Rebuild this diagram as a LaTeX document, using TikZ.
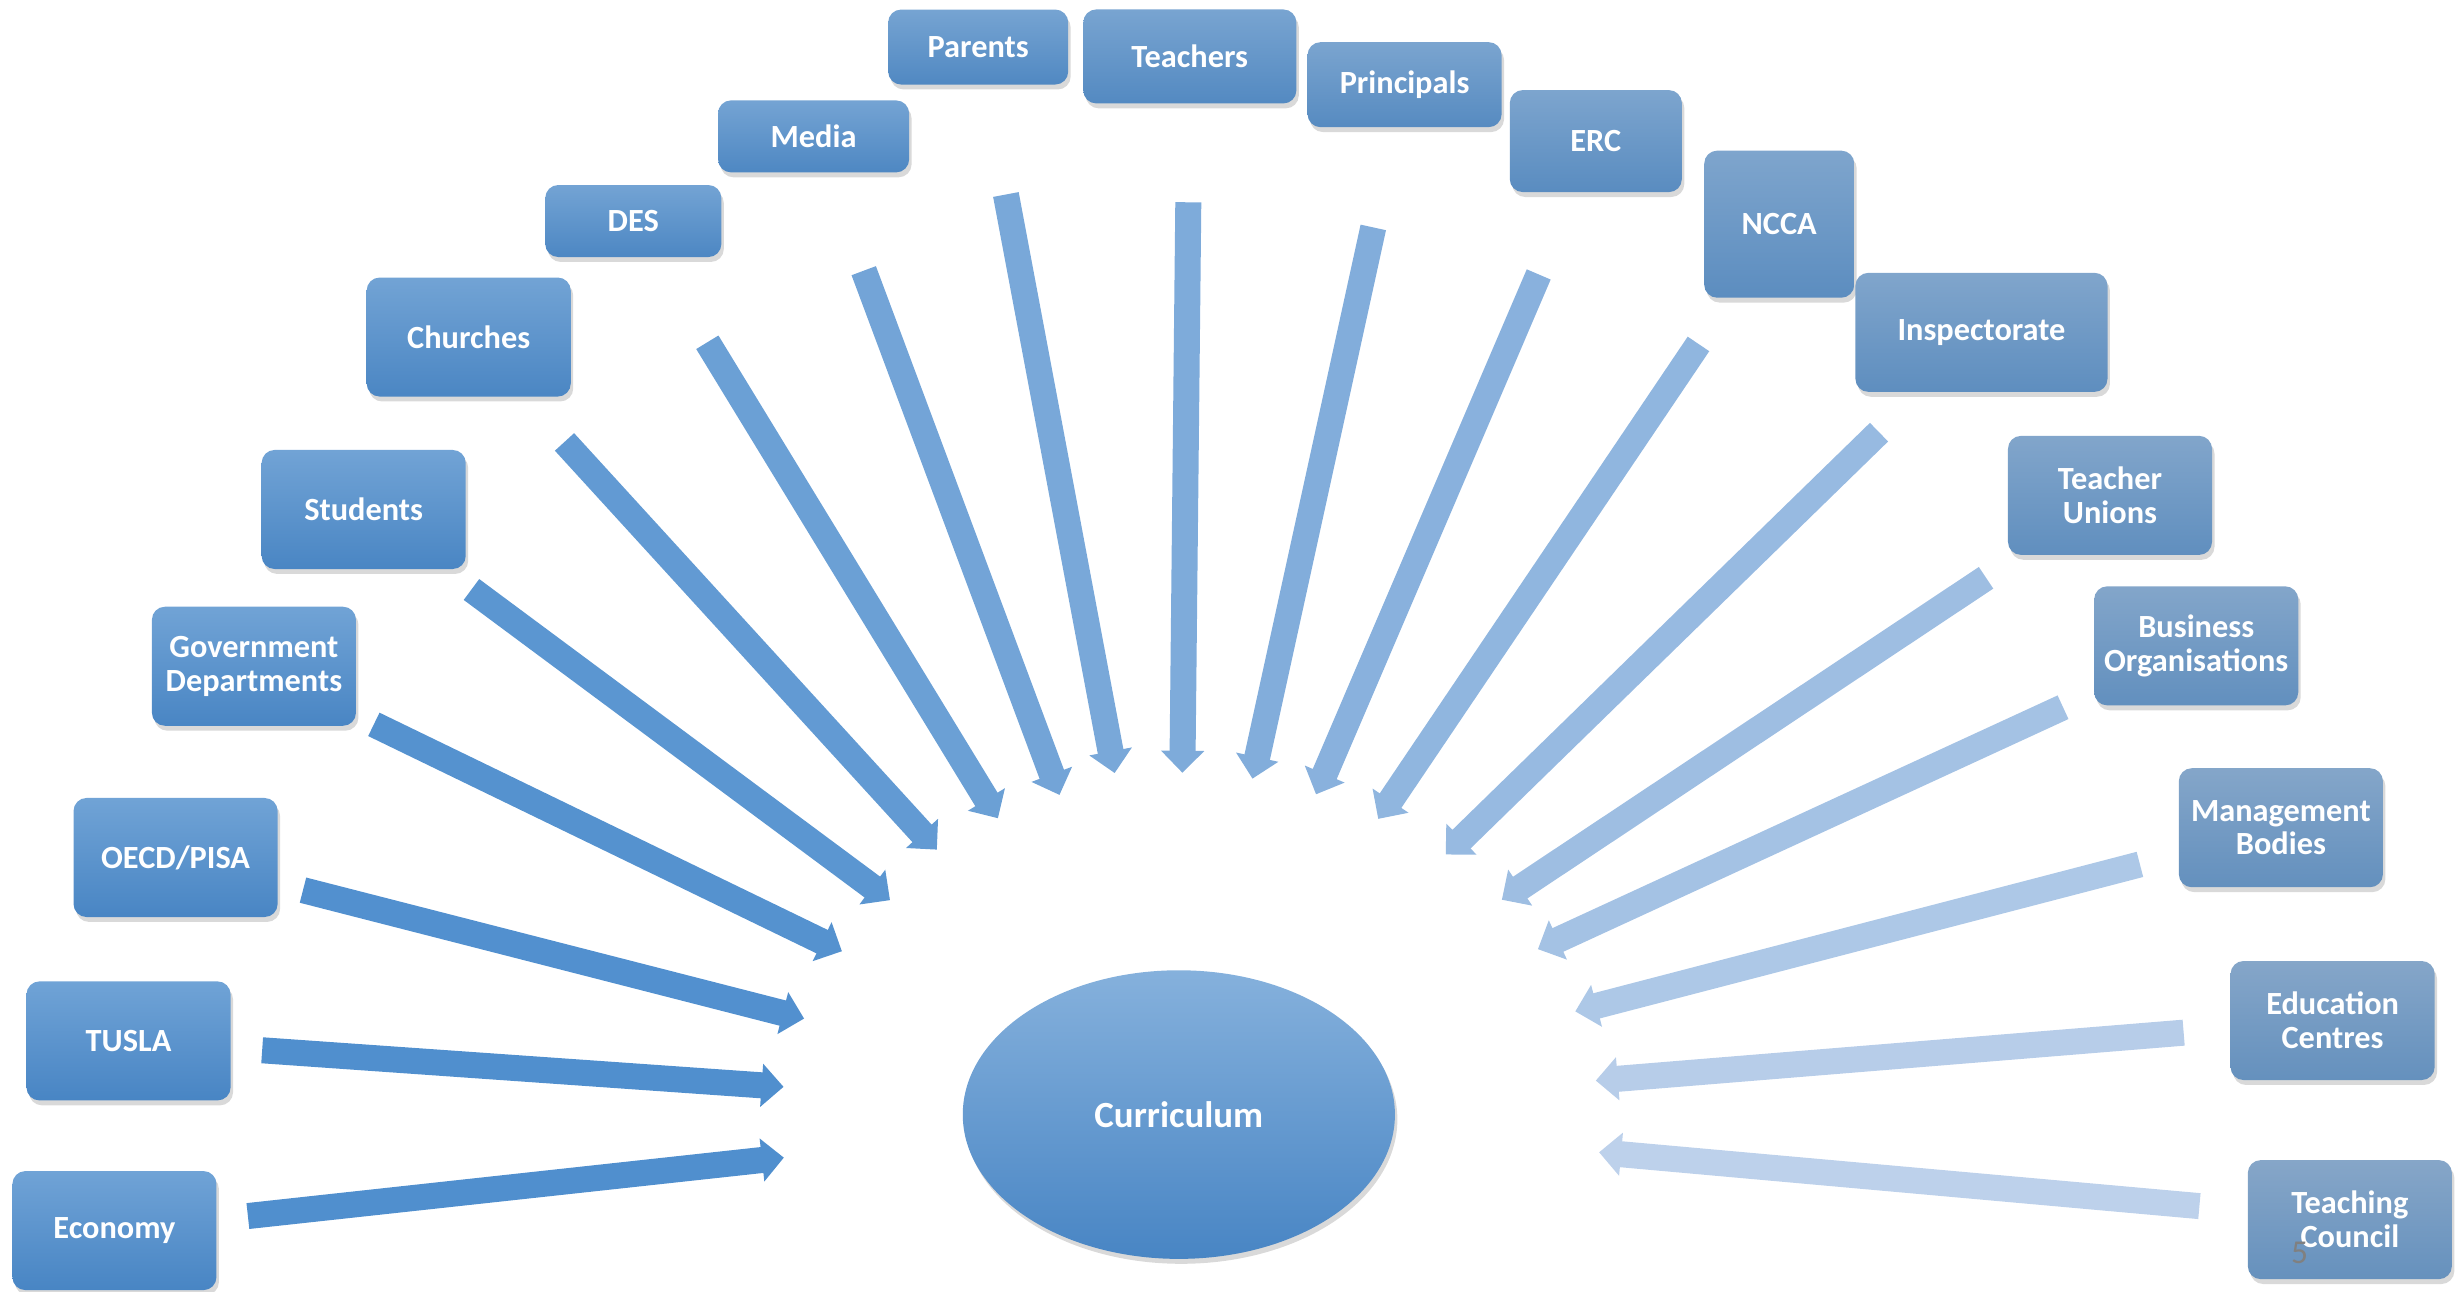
\documentclass[tikz,border=0pt]{standalone}
\usepackage{fontspec}
\setmainfont{Carlito}
\usetikzlibrary{arrows.meta,shapes.geometric,shadows}
\definecolor{BoxTopL}{RGB}{112,163,214}
\definecolor{BoxBotL}{RGB}{72,133,196}
\definecolor{BoxTopR}{RGB}{134,166,200}
\definecolor{BoxBotR}{RGB}{102,145,189}
\definecolor{ArrowDark}{RGB}{80,143,206}
\definecolor{ArrowLight}{RGB}{194,212,236}
\definecolor{SlideGray}{RGB}{128,128,128}

\begin{document}
\begin{tikzpicture}[
  x=0.015676cm, y=-0.015676cm,
  entity/.style={rounded corners=0.13cm, top color=BoxTopR!#1!BoxTopL, bottom color=BoxBotR!#1!BoxBotL,
    draw=none, text=white, font=\bfseries\fontsize{9.2}{9.6}\selectfont, align=center, inner sep=1pt,
    minimum width=2.04cm, minimum height=1.19cm,
    drop shadow={shadow xshift=0.7pt, shadow yshift=-1.4pt, opacity=0.3}},
  entity/.default=0,
  fan/.style={line width=0.26cm, draw=ArrowLight!#1!ArrowDark, -{Triangle[length=0.22cm, width=0.42cm]}}
]
\useasboundingbox (0,0) rectangle (1568,824);

% left half
\node[entity=0] (econ) at (73,785) {Economy};
\node[entity=0] (tusla) at (82,664) {TUSLA};
\node[entity=2] (oecd) at (112,547) {OECD/PISA};
\node[entity=4] (govdep) at (162,425) {Government\\ Departments};
\node[entity=6] (students) at (232,325) {Students};
\node[entity=10] (churches) at (299,215) {Churches};
\node[entity=15, minimum width=1.76cm, minimum height=0.72cm] (des) at (404,141) {DES};
\node[entity=20, minimum width=1.91cm, minimum height=0.72cm] (media) at (519,87) {Media};
\node[entity=28, minimum width=1.80cm, minimum height=0.75cm] (parents) at (624,30) {Parents};
\node[entity=38, minimum width=2.13cm, minimum height=0.94cm] (teachers) at (759,36) {Teachers};

% right half
\node[entity=48, minimum width=1.94cm, minimum height=0.85cm] (principals) at (896,54) {Principals};
\node[entity=58, minimum width=1.72cm, minimum height=1.02cm] (erc) at (1018,90) {ERC};
\node[entity=66, minimum width=1.50cm, minimum height=1.47cm] (ncca) at (1135,143) {NCCA};
\node[entity=74, minimum width=2.52cm] (inspect) at (1264,212) {Inspectorate};
\node[entity=80] (unions) at (1346,316) {Teacher\\ Unions};
\node[entity=86] (business) at (1401,412) {Business\\ Organisations};
\node[entity=92] (mgmt) at (1455,528) {Management\\ Bodies};
\node[entity=96] (educ) at (1488,651) {Education\\ Centres};
\node[entity=100] (council) at (1499,778) {Teaching\\ Council};

\node[ellipse, draw=none, top color=BoxTopL!85!white, bottom color=BoxBotL, text=white,
  font=\bfseries\fontsize{10.5}{12}\selectfont, minimum width=4.32cm, minimum height=2.885cm,
  drop shadow={shadow xshift=0.7pt, shadow yshift=-1.4pt, opacity=0.3}] (curr) at (752,711) {Curriculum};

\node[text=SlideGray, font=\fontsize{9.5}{10}\selectfont, inner sep=0pt] (slideno) at (1467,799) {5};

% arrows into the curriculum
\draw[fan=0, shorten <=1.342cm, shorten >=3.972cm] (econ.center) -- (curr.center);
\draw[fan=0, shorten <=1.339cm, shorten >=3.961cm] (tusla.center) -- (curr.center);
\draw[fan=2, shorten <=1.315cm, shorten >=3.867cm] (oecd.center) -- (curr.center);
\draw[fan=4, shorten <=1.332cm, shorten >=3.743cm] (govdep.center) -- (curr.center);
\draw[fan=10, shorten <=1.342cm, shorten >=3.596cm] (students.center) -- (curr.center);
\draw[fan=16, shorten <=1.420cm, shorten >=3.587cm] (churches.center) -- (curr.center);
\draw[fan=24, shorten <=1.420cm, shorten >=3.471cm] (des.center) -- (curr.center);
\draw[fan=31, shorten <=1.433cm, shorten >=3.411cm] (media.center) -- (curr.center);
\draw[fan=36, shorten <=1.500cm, shorten >=3.474cm] (parents.center) -- (curr.center);
\draw[fan=40, shorten <=1.458cm, shorten >=3.417cm] (teachers.center) -- (curr.center);
\draw[fan=44, shorten <=1.461cm, shorten >=3.438cm] (principals.center) -- (curr.center);
\draw[fan=50, shorten <=1.450cm, shorten >=3.483cm] (erc.center) -- (curr.center);
\draw[fan=56, shorten <=1.444cm, shorten >=3.565cm] (ncca.center) -- (curr.center);
\draw[fan=62, shorten <=1.430cm, shorten >=3.725cm] (inspect.center) -- (curr.center);
\draw[fan=68, shorten <=1.488cm, shorten >=3.878cm] (unions.center) -- (curr.center);
\draw[fan=74, shorten <=1.466cm, shorten >=3.952cm] (business.center) -- (curr.center);
\draw[fan=82, shorten <=1.456cm, shorten >=4.095cm] (mgmt.center) -- (curr.center);
\draw[fan=90, shorten <=1.494cm, shorten >=4.182cm] (educ.center) -- (curr.center);
\draw[fan=96, shorten <=1.510cm, shorten >=4.218cm] (council.center) -- (curr.center);
\end{tikzpicture}
\end{document}
